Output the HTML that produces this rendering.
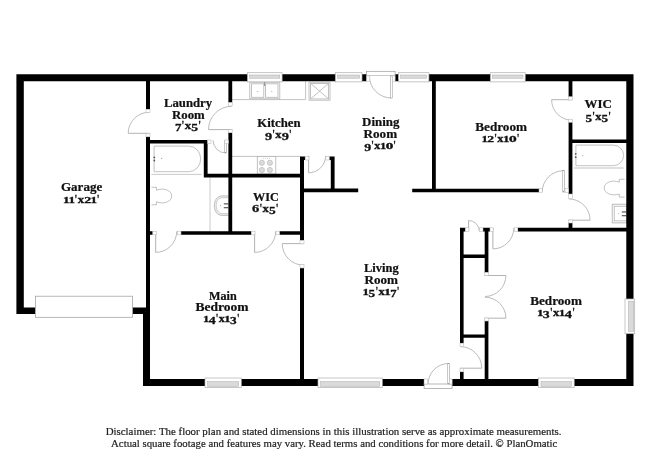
<!DOCTYPE html>
<html><head><meta charset="utf-8"><title>Floor plan</title>
<style>
html,body{margin:0;padding:0;background:#fff;}
body{width:650px;height:473px;overflow:hidden;font-family:"Liberation Serif",serif;}
svg{display:block;}
.lb{font-family:"Liberation Serif",serif;font-weight:bold;font-size:12.0px;fill:#111;}
.ds{font-family:"Liberation Serif",serif;font-size:9.6px;fill:#222;}
</style></head><body>
<svg width="650" height="473" viewBox="0 0 650 473">
<rect width="650" height="473" fill="#fff"/>
<line x1="232.00" y1="99.60" x2="305.60" y2="99.60" stroke="#b2b2b2" stroke-width="0.8"/>
<line x1="305.60" y1="81.30" x2="305.60" y2="99.60" stroke="#b2b2b2" stroke-width="0.8"/>
<rect x="249.80" y="82.20" width="30.00" height="16.60" fill="#fff" stroke="#b2b2b2" stroke-width="0.8"/>
<rect x="251.60" y="83.80" width="12.20" height="13.50" fill="#fff" stroke="#b2b2b2" stroke-width="0.8"/>
<rect x="265.60" y="83.80" width="12.40" height="13.50" fill="#fff" stroke="#b2b2b2" stroke-width="0.8"/>
<circle cx="257.7" cy="91.5" r="0.6" fill="#a0a0a0"/><circle cx="271.8" cy="91.5" r="0.6" fill="#a0a0a0"/>
<line x1="264.70" y1="81.50" x2="264.70" y2="86.00" stroke="#8a8a8a" stroke-width="1.1"/>
<rect x="309.00" y="82.20" width="21.00" height="18.00" fill="#fff" stroke="#b2b2b2" stroke-width="0.8"/>
<rect x="310.60" y="83.40" width="18.00" height="15.50" fill="#fff" stroke="#b2b2b2" stroke-width="0.8"/>
<line x1="310.60" y1="83.40" x2="328.60" y2="98.90" stroke="#b2b2b2" stroke-width="0.8"/>
<line x1="328.60" y1="83.40" x2="310.60" y2="98.90" stroke="#b2b2b2" stroke-width="0.8"/>
<line x1="232.00" y1="156.40" x2="300.50" y2="156.40" stroke="#b2b2b2" stroke-width="0.8"/>
<rect x="257.30" y="156.40" width="18.50" height="17.60" fill="#fff" stroke="#b2b2b2" stroke-width="0.8"/>
<circle cx="261.9" cy="162.8" r="2.6" fill="#dcdcdc" stroke="#b2b2b2" stroke-width="0.6"/>
<circle cx="261.9" cy="170" r="2.6" fill="#dcdcdc" stroke="#b2b2b2" stroke-width="0.6"/>
<circle cx="269.9" cy="162.8" r="2.6" fill="#dcdcdc" stroke="#b2b2b2" stroke-width="0.6"/>
<circle cx="269.9" cy="170" r="2.6" fill="#dcdcdc" stroke="#b2b2b2" stroke-width="0.6"/>
<circle cx="263.2" cy="158.2" r="0.45" fill="#a0a0a0"/>
<circle cx="265.4" cy="158.2" r="0.45" fill="#a0a0a0"/>
<circle cx="267.6" cy="158.2" r="0.45" fill="#a0a0a0"/>
<circle cx="269.8" cy="158.2" r="0.45" fill="#a0a0a0"/>
<path d="M154.1,146.1 H188.7 A12,12.799999999999997 0 0 1 188.7,171.7 H154.1 Z" fill="none" stroke="#b2b2b2" stroke-width="0.8"/>
<circle cx="154.3" cy="157.4" r="0.9" fill="#555"/><circle cx="154.3" cy="160.5" r="0.9" fill="#555"/><circle cx="161.6" cy="158.4" r="0.6" fill="#a0a0a0"/>
<line x1="151.40" y1="174.40" x2="201.60" y2="174.40" stroke="#bcbcbc" stroke-width="0.8"/>
<path d="M151.5,187.3 H156.4 V190.3 C163,187.4 171.7,190 171.7,196 C171.7,202 163,204.6 156.4,201.8 V204.8 H151.5" fill="none" stroke="#b2b2b2" stroke-width="0.8"/>
<line x1="210.00" y1="177.50" x2="210.00" y2="231.20" stroke="#bcbcbc" stroke-width="0.8"/>
<path d="M228.4,195.9 H222 C211.7,195.9 211.7,215.4 222,215.4 H228.4" fill="#ebebeb" stroke="#b2b2b2" stroke-width="0.8"/>
<path d="M228.4,197.7 H222.4 C214.2,197.7 214.2,213.6 222.4,213.6 H228.4" fill="#fff" stroke="#b2b2b2" stroke-width="0.6"/>
<rect x="223.8" y="203.2" width="4.6" height="1.3" fill="#666"/><rect x="223.8" y="207" width="4.6" height="1.3" fill="#666"/><circle cx="220.6" cy="205.5" r="0.5" fill="#a0a0a0"/>
<path d="M575.9,145.1 H613.3000000000001 A10.3,10.299999999999997 0 0 1 613.3000000000001,165.7 H575.9 Z" fill="none" stroke="#b2b2b2" stroke-width="0.8"/>
<circle cx="575.7" cy="153.8" r="0.9" fill="#555"/><circle cx="575.7" cy="157.2" r="0.9" fill="#555"/><circle cx="582.8" cy="155.6" r="0.6" fill="#a0a0a0"/>
<line x1="573.90" y1="168.00" x2="623.60" y2="168.00" stroke="#bcbcbc" stroke-width="0.9"/>
<path d="M624.6,179.3 H619.3 V182.2 C613,179.5 604.2,182 604.2,187.9 C604.2,193.8 613,196.4 619.3,194 V197.1 H624.6" fill="none" stroke="#b2b2b2" stroke-width="0.8"/>
<rect x="612.20" y="204.20" width="14.30" height="18.70" fill="#f1f1f1" stroke="#b2b2b2" stroke-width="0.8"/>
<rect x="614.40" y="206.40" width="12.10" height="14.40" fill="#fff" stroke="#b2b2b2" stroke-width="0.6"/>
<rect x="621.8" y="211.3" width="4.6" height="1.3" fill="#666"/><rect x="621.8" y="215" width="4.6" height="1.3" fill="#666"/><circle cx="618.6" cy="213.6" r="0.5" fill="#a0a0a0"/>
<path d="M16.40,74.20H633.50V81.30H16.40ZM16.40,74.20H23.80V314.00H16.40ZM16.40,307.50H35.50V314.00H16.40ZM132.50,307.50H150.00V314.00H132.50ZM143.00,307.50H150.00V386.00H143.00ZM143.00,378.90H633.50V386.00H143.00ZM626.30,74.20H633.50V386.00H626.30ZM146.00,81.30H150.00V109.30H146.00ZM146.00,136.80H150.00V308.00H146.00ZM146.00,140.00H207.60V143.60H146.00ZM203.80,140.00H207.60V177.50H203.80ZM228.40,81.30H232.20V102.60H228.40ZM228.40,132.70H232.20V234.80H228.40ZM203.80,173.70H304.00V177.60H203.80ZM300.00,156.50H304.00V240.40H300.00ZM300.00,156.50H305.20V160.00H300.00ZM329.20,156.50H334.60V160.00H329.20ZM330.80,156.50H334.60V192.30H330.80ZM300.00,188.60H358.20V192.30H300.00ZM146.00,231.20H152.80V234.80H146.00ZM181.00,231.20H251.40V234.80H181.00ZM279.40,231.20H304.00V234.80H279.40ZM300.00,268.00H304.00V386.00H300.00ZM432.00,81.30H435.80V192.30H432.00ZM412.20,188.70H539.00V192.30H412.20ZM568.60,81.30H572.40V96.80H568.60ZM568.60,122.20H572.40V194.00H568.60ZM568.60,223.00H572.40V229.00H568.60ZM568.60,139.60H633.50V143.00H568.60ZM517.80,227.80H633.50V231.50H517.80ZM460.00,227.80H463.60V343.20H460.00ZM460.00,371.80H463.60V386.00H460.00ZM460.00,227.80H465.40V231.40H460.00ZM483.00,227.80H490.00V231.40H483.00ZM484.70,227.80H488.40V272.40H484.70ZM484.70,321.00H488.40V386.00H484.70ZM460.00,254.60H488.40V258.00H460.00ZM460.00,334.60H488.40V337.80H460.00Z" fill="#000" fill-rule="nonzero"/>
<rect x="247.40" y="72.70" width="34.70" height="9.20" fill="#fff" stroke="#b0b0b0" stroke-width="0.7"/>
<rect x="249.70" y="75.00" width="30.10" height="3.20" fill="#dadada" stroke="#ababab" stroke-width="0.5"/>
<rect x="335.30" y="72.70" width="26.70" height="9.20" fill="#fff" stroke="#b0b0b0" stroke-width="0.7"/>
<rect x="337.60" y="75.00" width="22.10" height="3.20" fill="#dadada" stroke="#ababab" stroke-width="0.5"/>
<rect x="398.40" y="72.70" width="30.50" height="9.20" fill="#fff" stroke="#b0b0b0" stroke-width="0.7"/>
<rect x="400.70" y="75.00" width="25.90" height="3.20" fill="#dadada" stroke="#ababab" stroke-width="0.5"/>
<rect x="490.30" y="72.70" width="34.90" height="9.20" fill="#fff" stroke="#b0b0b0" stroke-width="0.7"/>
<rect x="492.60" y="75.00" width="30.30" height="3.20" fill="#dadada" stroke="#ababab" stroke-width="0.5"/>
<rect x="205.00" y="378.00" width="36.30" height="9.50" fill="#fff" stroke="#b0b0b0" stroke-width="0.7"/>
<rect x="207.60" y="381.60" width="31.10" height="4.90" fill="#dadada" stroke="#ababab" stroke-width="0.5"/>
<rect x="318.00" y="378.00" width="64.30" height="9.50" fill="#fff" stroke="#b0b0b0" stroke-width="0.7"/>
<rect x="320.60" y="381.60" width="59.10" height="4.90" fill="#dadada" stroke="#ababab" stroke-width="0.5"/>
<rect x="538.40" y="378.00" width="35.80" height="9.50" fill="#fff" stroke="#b0b0b0" stroke-width="0.7"/>
<rect x="541.00" y="381.60" width="30.60" height="4.90" fill="#dadada" stroke="#ababab" stroke-width="0.5"/>
<rect x="625.00" y="299.00" width="9.70" height="34.70" fill="#fff" stroke="#b0b0b0" stroke-width="0.7"/>
<rect x="628.50" y="301.20" width="5.30" height="30.20" fill="#dadada" stroke="#ababab" stroke-width="0.5"/>
<rect x="35.50" y="296.20" width="96.90" height="21.10" fill="#fff" stroke="#a0a0a0" stroke-width="0.75"/>
<path d="M149.20,133.30 L128.20,133.30" fill="none" stroke="#a4a4a4" stroke-width="0.85"/>
<path d="M128.20,133.30 A21.00,21.00 0 0 1 149.20,112.30" fill="none" stroke="#b0b0b0" stroke-width="0.85"/>
<path d="M231.80,129.60 L208.50,129.60" fill="none" stroke="#a4a4a4" stroke-width="0.85"/>
<path d="M208.50,129.60 A23.30,23.30 0 0 1 231.80,106.30" fill="none" stroke="#b0b0b0" stroke-width="0.85"/>
<path d="M225.60,140.40 L225.60,152.90" fill="none" stroke="#a4a4a4" stroke-width="0.85"/>
<path d="M225.60,152.90 A12.50,12.50 0 0 1 213.10,140.40" fill="none" stroke="#b0b0b0" stroke-width="0.85"/>
<rect x="224.75" y="140.40" width="1.70" height="12.50" fill="#fff" stroke="#9a9a9a" stroke-width="0.55"/>
<path d="M308.60,155.80 L308.60,172.80" fill="none" stroke="#a4a4a4" stroke-width="0.85"/>
<path d="M308.60,172.80 A17.00,17.00 0 0 0 325.60,155.80" fill="none" stroke="#b0b0b0" stroke-width="0.85"/>
<rect x="366.60" y="71.30" width="28.50" height="4.60" fill="#fff" stroke="#9a9a9a" stroke-width="0.7"/>
<rect x="366.6" y="75.9" width="28.5" height="6.4" fill="#fff"/>
<path d="M391.40,76.00 L391.40,98.00" fill="none" stroke="#a4a4a4" stroke-width="0.85"/>
<path d="M391.40,98.00 A22.00,22.00 0 0 1 369.40,76.00" fill="none" stroke="#b0b0b0" stroke-width="0.85"/>
<rect x="390.55" y="76.00" width="1.70" height="22.00" fill="#fff" stroke="#9a9a9a" stroke-width="0.55"/>
<path d="M572.20,99.70 L551.60,99.70" fill="none" stroke="#a4a4a4" stroke-width="0.85"/>
<path d="M551.60,99.70 A20.60,20.60 0 0 0 572.20,120.30" fill="none" stroke="#b0b0b0" stroke-width="0.85"/>
<path d="M563.60,192.10 L563.60,170.70" fill="none" stroke="#a4a4a4" stroke-width="0.85"/>
<path d="M563.60,170.70 A21.40,21.40 0 0 0 542.20,192.10" fill="none" stroke="#b0b0b0" stroke-width="0.85"/>
<rect x="562.75" y="170.70" width="1.70" height="21.40" fill="#fff" stroke="#9a9a9a" stroke-width="0.55"/>
<path d="M568.80,220.20 L590.10,220.20" fill="none" stroke="#a4a4a4" stroke-width="0.85"/>
<path d="M590.10,220.20 A21.30,21.30 0 0 0 568.80,198.90" fill="none" stroke="#b0b0b0" stroke-width="0.85"/>
<path d="M468.60,231.20 L468.60,220.50" fill="none" stroke="#a4a4a4" stroke-width="0.85"/>
<path d="M468.60,220.50 A10.70,10.70 0 0 1 479.30,231.20" fill="none" stroke="#b0b0b0" stroke-width="0.85"/>
<path d="M492.90,228.00 L492.90,248.90" fill="none" stroke="#a4a4a4" stroke-width="0.85"/>
<path d="M492.90,248.90 A20.90,20.90 0 0 0 513.80,228.00" fill="none" stroke="#b0b0b0" stroke-width="0.85"/>
<path d="M484.90,275.50 L505.90,275.50" fill="none" stroke="#a4a4a4" stroke-width="0.85"/>
<path d="M505.90,275.50 A21.00,21.00 0 0 1 484.90,296.50" fill="none" stroke="#b0b0b0" stroke-width="0.85"/>
<path d="M484.90,318.20 L505.90,318.20" fill="none" stroke="#a4a4a4" stroke-width="0.85"/>
<path d="M505.90,318.20 A21.00,21.00 0 0 0 484.90,297.20" fill="none" stroke="#b0b0b0" stroke-width="0.85"/>
<path d="M460.20,368.20 L481.80,368.20" fill="none" stroke="#a4a4a4" stroke-width="0.85"/>
<path d="M481.80,368.20 A21.60,21.60 0 0 0 460.20,346.60" fill="none" stroke="#b0b0b0" stroke-width="0.85"/>
<rect x="424.1" y="378" width="28" height="6.5" fill="#fff"/>
<rect x="424.10" y="384.00" width="28.00" height="4.40" fill="#fff" stroke="#9a9a9a" stroke-width="0.7"/>
<path d="M448.60,384.00 L448.60,363.50" fill="none" stroke="#a4a4a4" stroke-width="0.85"/>
<path d="M448.60,363.50 A20.50,20.50 0 0 0 428.10,384.00" fill="none" stroke="#b0b0b0" stroke-width="0.85"/>
<rect x="447.75" y="363.50" width="1.70" height="20.50" fill="#fff" stroke="#9a9a9a" stroke-width="0.55"/>
<path d="M155.70,231.40 L155.70,252.40" fill="none" stroke="#a4a4a4" stroke-width="0.85"/>
<path d="M155.70,252.40 A21.00,21.00 0 0 0 176.70,231.40" fill="none" stroke="#b0b0b0" stroke-width="0.85"/>
<path d="M254.60,231.40 L254.60,252.40" fill="none" stroke="#a4a4a4" stroke-width="0.85"/>
<path d="M254.60,252.40 A21.00,21.00 0 0 0 275.60,231.40" fill="none" stroke="#b0b0b0" stroke-width="0.85"/>
<path d="M303.80,243.60 L282.20,243.60" fill="none" stroke="#a4a4a4" stroke-width="0.85"/>
<path d="M282.20,243.60 A21.60,21.60 0 0 0 303.80,265.20" fill="none" stroke="#b0b0b0" stroke-width="0.85"/>
<rect x="146.00" y="109.30" width="4.00" height="3.10" fill="#fff" stroke="#b8b8b8" stroke-width="0.55"/>
<rect x="146.00" y="133.60" width="4.00" height="3.20" fill="#fff" stroke="#b8b8b8" stroke-width="0.55"/>
<rect x="228.40" y="102.60" width="3.80" height="3.40" fill="#fff" stroke="#b8b8b8" stroke-width="0.55"/>
<rect x="228.40" y="129.70" width="3.80" height="3.00" fill="#fff" stroke="#b8b8b8" stroke-width="0.55"/>
<rect x="207.60" y="140.00" width="3.40" height="3.50" fill="#fff" stroke="#b8b8b8" stroke-width="0.55"/>
<rect x="224.80" y="140.00" width="3.60" height="3.50" fill="#fff" stroke="#b8b8b8" stroke-width="0.55"/>
<rect x="305.20" y="156.50" width="3.80" height="3.50" fill="#fff" stroke="#b8b8b8" stroke-width="0.55"/>
<rect x="325.80" y="156.50" width="3.40" height="3.50" fill="#fff" stroke="#b8b8b8" stroke-width="0.55"/>
<rect x="366.60" y="75.90" width="3.20" height="5.30" fill="#fff" stroke="#b8b8b8" stroke-width="0.55"/>
<rect x="392.30" y="75.90" width="2.80" height="5.30" fill="#fff" stroke="#b8b8b8" stroke-width="0.55"/>
<rect x="568.60" y="96.80" width="3.80" height="3.20" fill="#fff" stroke="#b8b8b8" stroke-width="0.55"/>
<rect x="568.60" y="119.20" width="3.80" height="3.00" fill="#fff" stroke="#b8b8b8" stroke-width="0.55"/>
<rect x="539.00" y="188.70" width="3.20" height="3.60" fill="#fff" stroke="#b8b8b8" stroke-width="0.55"/>
<rect x="565.00" y="188.70" width="3.60" height="3.60" fill="#fff" stroke="#b8b8b8" stroke-width="0.55"/>
<rect x="568.60" y="194.00" width="3.80" height="4.60" fill="#fff" stroke="#b8b8b8" stroke-width="0.55"/>
<rect x="568.60" y="220.00" width="3.80" height="3.00" fill="#fff" stroke="#b8b8b8" stroke-width="0.55"/>
<rect x="465.40" y="227.80" width="3.50" height="3.60" fill="#fff" stroke="#b8b8b8" stroke-width="0.55"/>
<rect x="479.60" y="227.80" width="3.40" height="3.60" fill="#fff" stroke="#b8b8b8" stroke-width="0.55"/>
<rect x="490.00" y="227.80" width="3.20" height="3.60" fill="#fff" stroke="#b8b8b8" stroke-width="0.55"/>
<rect x="514.40" y="227.80" width="3.40" height="3.60" fill="#fff" stroke="#b8b8b8" stroke-width="0.55"/>
<rect x="484.70" y="272.40" width="3.70" height="3.30" fill="#fff" stroke="#b8b8b8" stroke-width="0.55"/>
<rect x="484.70" y="318.00" width="3.70" height="3.00" fill="#fff" stroke="#b8b8b8" stroke-width="0.55"/>
<rect x="460.00" y="343.20" width="3.60" height="3.20" fill="#fff" stroke="#b8b8b8" stroke-width="0.55"/>
<rect x="460.00" y="368.40" width="3.60" height="3.40" fill="#fff" stroke="#b8b8b8" stroke-width="0.55"/>
<rect x="424.10" y="379.00" width="3.20" height="5.00" fill="#fff" stroke="#b8b8b8" stroke-width="0.55"/>
<rect x="449.50" y="379.00" width="2.60" height="5.00" fill="#fff" stroke="#b8b8b8" stroke-width="0.55"/>
<rect x="152.80" y="231.20" width="3.50" height="3.60" fill="#fff" stroke="#b8b8b8" stroke-width="0.55"/>
<rect x="177.50" y="231.20" width="3.50" height="3.60" fill="#fff" stroke="#b8b8b8" stroke-width="0.55"/>
<rect x="251.40" y="231.20" width="3.60" height="3.60" fill="#fff" stroke="#b8b8b8" stroke-width="0.55"/>
<rect x="276.00" y="231.20" width="3.40" height="3.60" fill="#fff" stroke="#b8b8b8" stroke-width="0.55"/>
<rect x="300.00" y="240.40" width="4.00" height="3.40" fill="#fff" stroke="#b8b8b8" stroke-width="0.55"/>
<rect x="300.00" y="264.60" width="4.00" height="3.40" fill="#fff" stroke="#b8b8b8" stroke-width="0.55"/>
<g id="txt" opacity="0.999">
<g transform="translate(60.96,191.20) scale(1.0868,1)"><text id="g1" x="0" y="0" class="lb" stroke="#111" stroke-width="0.22">Garage</text></g>
<g id="g2"><text transform="translate(66.16,202.60) scale(1.087,0.645)" text-anchor="middle" class="lb" stroke="#111" stroke-width="0.45">1</text><text transform="translate(71.69,202.60) scale(1.087,0.645)" text-anchor="middle" class="lb" stroke="#111" stroke-width="0.45">1</text><text transform="translate(75.96,202.60) scale(0.814,1.000)" text-anchor="middle" class="lb" stroke="#111" stroke-width="0.3">'</text><text transform="translate(80.80,202.60) scale(1.055,0.900)" text-anchor="middle" class="lb" stroke="#111" stroke-width="0.35">x</text><text transform="translate(87.60,202.60) scale(1.154,0.645)" text-anchor="middle" class="lb" stroke="#111" stroke-width="0.45">2</text><text transform="translate(93.82,202.60) scale(1.087,0.645)" text-anchor="middle" class="lb" stroke="#111" stroke-width="0.45">1</text><text transform="translate(98.09,202.60) scale(0.814,1.000)" text-anchor="middle" class="lb" stroke="#111" stroke-width="0.3">'</text></g>
<g transform="translate(164.03,106.90) scale(1.0609,1)"><text id="l1" x="0" y="0" class="lb" stroke="#111" stroke-width="0.22">Laundry</text></g>
<g transform="translate(172.03,118.50) scale(1.0677,1)"><text id="l2" x="0" y="0" class="lb" stroke="#111" stroke-width="0.22">Room</text></g>
<g id="l3"><text transform="translate(178.22,130.90) scale(1.075,0.930)" text-anchor="middle" class="lb" stroke="#111" stroke-width="0.3">7</text><text transform="translate(182.98,128.60) scale(0.828,1.000)" text-anchor="middle" class="lb" stroke="#111" stroke-width="0.3">'</text><text transform="translate(187.91,128.60) scale(1.074,0.900)" text-anchor="middle" class="lb" stroke="#111" stroke-width="0.35">x</text><text transform="translate(194.72,130.90) scale(1.138,0.930)" text-anchor="middle" class="lb" stroke="#111" stroke-width="0.3">5</text><text transform="translate(199.67,128.60) scale(0.828,1.000)" text-anchor="middle" class="lb" stroke="#111" stroke-width="0.3">'</text></g>
<g transform="translate(257.24,126.50) scale(1.0659,1)"><text id="k1" x="0" y="0" class="lb" stroke="#111" stroke-width="0.22">Kitchen</text></g>
<g id="k2"><text transform="translate(268.59,140.30) scale(1.196,0.930)" text-anchor="middle" class="lb" stroke="#111" stroke-width="0.3">9</text><text transform="translate(273.67,138.00) scale(0.804,1.000)" text-anchor="middle" class="lb" stroke="#111" stroke-width="0.3">'</text><text transform="translate(278.45,138.00) scale(1.043,0.900)" text-anchor="middle" class="lb" stroke="#111" stroke-width="0.35">x</text><text transform="translate(285.33,140.30) scale(1.196,0.930)" text-anchor="middle" class="lb" stroke="#111" stroke-width="0.3">9</text><text transform="translate(290.41,138.00) scale(0.804,1.000)" text-anchor="middle" class="lb" stroke="#111" stroke-width="0.3">'</text></g>
<g transform="translate(362.04,126.10) scale(1.0778,1)"><text id="d1" x="0" y="0" class="lb" stroke="#111" stroke-width="0.22">Dining</text></g>
<g transform="translate(363.58,137.60) scale(1.0935,1)"><text id="d2" x="0" y="0" class="lb" stroke="#111" stroke-width="0.22">Room</text></g>
<g id="d3"><text transform="translate(367.67,151.10) scale(1.157,0.930)" text-anchor="middle" class="lb" stroke="#111" stroke-width="0.3">9</text><text transform="translate(372.58,148.80) scale(0.777,1.000)" text-anchor="middle" class="lb" stroke="#111" stroke-width="0.3">'</text><text transform="translate(377.20,148.80) scale(1.008,0.900)" text-anchor="middle" class="lb" stroke="#111" stroke-width="0.35">x</text><text transform="translate(383.03,148.80) scale(1.038,0.645)" text-anchor="middle" class="lb" stroke="#111" stroke-width="0.45">1</text><text transform="translate(389.44,148.80) scale(1.259,0.645)" text-anchor="middle" class="lb" stroke="#111" stroke-width="0.45">0</text><text transform="translate(394.66,148.80) scale(0.777,1.000)" text-anchor="middle" class="lb" stroke="#111" stroke-width="0.3">'</text></g>
<g transform="translate(475.26,130.80) scale(1.1000,1)"><text id="b1" x="0" y="0" class="lb" stroke="#111" stroke-width="0.22">Bedroom</text></g>
<g id="b2"><text transform="translate(484.60,142.30) scale(1.062,0.645)" text-anchor="middle" class="lb" stroke="#111" stroke-width="0.45">1</text><text transform="translate(490.68,142.30) scale(1.128,0.645)" text-anchor="middle" class="lb" stroke="#111" stroke-width="0.45">2</text><text transform="translate(495.54,142.30) scale(0.795,1.000)" text-anchor="middle" class="lb" stroke="#111" stroke-width="0.3">'</text><text transform="translate(500.27,142.30) scale(1.031,0.900)" text-anchor="middle" class="lb" stroke="#111" stroke-width="0.35">x</text><text transform="translate(506.23,142.30) scale(1.062,0.645)" text-anchor="middle" class="lb" stroke="#111" stroke-width="0.45">1</text><text transform="translate(512.79,142.30) scale(1.288,0.645)" text-anchor="middle" class="lb" stroke="#111" stroke-width="0.45">0</text><text transform="translate(518.13,142.30) scale(0.795,1.000)" text-anchor="middle" class="lb" stroke="#111" stroke-width="0.3">'</text></g>
<g transform="translate(584.50,108.40) scale(1.0792,1)"><text id="w1" x="0" y="0" class="lb" stroke="#111" stroke-width="0.22">WIC</text></g>
<g id="w2"><text transform="translate(588.70,122.20) scale(1.100,0.930)" text-anchor="middle" class="lb" stroke="#111" stroke-width="0.3">5</text><text transform="translate(593.49,119.90) scale(0.801,1.000)" text-anchor="middle" class="lb" stroke="#111" stroke-width="0.3">'</text><text transform="translate(598.25,119.90) scale(1.038,0.900)" text-anchor="middle" class="lb" stroke="#111" stroke-width="0.35">x</text><text transform="translate(604.83,122.20) scale(1.100,0.930)" text-anchor="middle" class="lb" stroke="#111" stroke-width="0.3">5</text><text transform="translate(609.62,119.90) scale(0.801,1.000)" text-anchor="middle" class="lb" stroke="#111" stroke-width="0.3">'</text></g>
<g transform="translate(253.00,200.60) scale(1.0200,1)"><text id="v1" x="0" y="0" class="lb" stroke="#111" stroke-width="0.22">WIC</text></g>
<g id="v2"><text transform="translate(255.64,211.90) scale(1.212,0.920)" text-anchor="middle" class="lb" stroke="#111" stroke-width="0.3">6</text><text transform="translate(260.78,211.90) scale(0.815,1.000)" text-anchor="middle" class="lb" stroke="#111" stroke-width="0.3">'</text><text transform="translate(265.63,211.90) scale(1.056,0.900)" text-anchor="middle" class="lb" stroke="#111" stroke-width="0.35">x</text><text transform="translate(272.32,214.20) scale(1.120,0.930)" text-anchor="middle" class="lb" stroke="#111" stroke-width="0.3">5</text><text transform="translate(277.19,211.90) scale(0.815,1.000)" text-anchor="middle" class="lb" stroke="#111" stroke-width="0.3">'</text></g>
<g transform="translate(209.01,299.50) scale(1.0143,1)"><text id="m1" x="0" y="0" class="lb" stroke="#111" stroke-width="0.22">Main</text></g>
<g transform="translate(195.57,310.80) scale(1.1277,1)"><text id="m2" x="0" y="0" class="lb" stroke="#111" stroke-width="0.22">Bedroom</text></g>
<g id="m3"><text transform="translate(206.03,322.00) scale(1.033,0.645)" text-anchor="middle" class="lb" stroke="#111" stroke-width="0.45">1</text><text transform="translate(212.14,324.30) scale(1.162,0.930)" text-anchor="middle" class="lb" stroke="#111" stroke-width="0.3">4</text><text transform="translate(217.05,322.00) scale(0.774,1.000)" text-anchor="middle" class="lb" stroke="#111" stroke-width="0.3">'</text><text transform="translate(221.66,322.00) scale(1.003,0.900)" text-anchor="middle" class="lb" stroke="#111" stroke-width="0.35">x</text><text transform="translate(227.45,322.00) scale(1.033,0.645)" text-anchor="middle" class="lb" stroke="#111" stroke-width="0.45">1</text><text transform="translate(233.40,324.30) scale(1.110,0.930)" text-anchor="middle" class="lb" stroke="#111" stroke-width="0.3">3</text><text transform="translate(238.17,322.00) scale(0.774,1.000)" text-anchor="middle" class="lb" stroke="#111" stroke-width="0.3">'</text></g>
<g transform="translate(364.02,272.00) scale(1.0382,1)"><text id="r1" x="0" y="0" class="lb" stroke="#111" stroke-width="0.22">Living</text></g>
<g transform="translate(364.42,283.50) scale(1.0935,1)"><text id="r2" x="0" y="0" class="lb" stroke="#111" stroke-width="0.22">Room</text></g>
<g id="r3"><text transform="translate(365.84,294.50) scale(1.078,0.645)" text-anchor="middle" class="lb" stroke="#111" stroke-width="0.45">1</text><text transform="translate(371.91,296.80) scale(1.109,0.930)" text-anchor="middle" class="lb" stroke="#111" stroke-width="0.3">5</text><text transform="translate(376.73,294.50) scale(0.807,1.000)" text-anchor="middle" class="lb" stroke="#111" stroke-width="0.3">'</text><text transform="translate(381.53,294.50) scale(1.047,0.900)" text-anchor="middle" class="lb" stroke="#111" stroke-width="0.35">x</text><text transform="translate(387.58,294.50) scale(1.078,0.645)" text-anchor="middle" class="lb" stroke="#111" stroke-width="0.45">1</text><text transform="translate(393.46,296.80) scale(1.048,0.930)" text-anchor="middle" class="lb" stroke="#111" stroke-width="0.3">7</text><text transform="translate(398.10,294.50) scale(0.807,1.000)" text-anchor="middle" class="lb" stroke="#111" stroke-width="0.3">'</text></g>
<g transform="translate(530.26,304.90) scale(1.0958,1)"><text id="e1" x="0" y="0" class="lb" stroke="#111" stroke-width="0.22">Bedroom</text></g>
<g id="e2"><text transform="translate(540.13,316.00) scale(1.073,0.645)" text-anchor="middle" class="lb" stroke="#111" stroke-width="0.45">1</text><text transform="translate(546.31,318.30) scale(1.153,0.930)" text-anchor="middle" class="lb" stroke="#111" stroke-width="0.3">3</text><text transform="translate(551.26,316.00) scale(0.803,1.000)" text-anchor="middle" class="lb" stroke="#111" stroke-width="0.3">'</text><text transform="translate(556.04,316.00) scale(1.042,0.900)" text-anchor="middle" class="lb" stroke="#111" stroke-width="0.35">x</text><text transform="translate(562.06,316.00) scale(1.073,0.645)" text-anchor="middle" class="lb" stroke="#111" stroke-width="0.45">1</text><text transform="translate(568.40,318.30) scale(1.206,0.930)" text-anchor="middle" class="lb" stroke="#111" stroke-width="0.3">4</text><text transform="translate(573.51,316.00) scale(0.803,1.000)" text-anchor="middle" class="lb" stroke="#111" stroke-width="0.3">'</text></g>
<g transform="translate(105.64,435.30) scale(1.1343,1)"><text id="z1" x="0" y="0" class="ds" stroke="#222" stroke-width="0.18">Disclaimer: The floor plan and stated dimensions in this illustration serve as approximate measurements.</text></g>
<g transform="translate(111.06,446.50) scale(1.1254,1)"><text id="z2" x="0" y="0" class="ds" stroke="#222" stroke-width="0.18">Actual square footage and features may vary. Read terms and conditions for more detail. © PlanOmatic</text></g>
</g>
</svg>
</body></html>
